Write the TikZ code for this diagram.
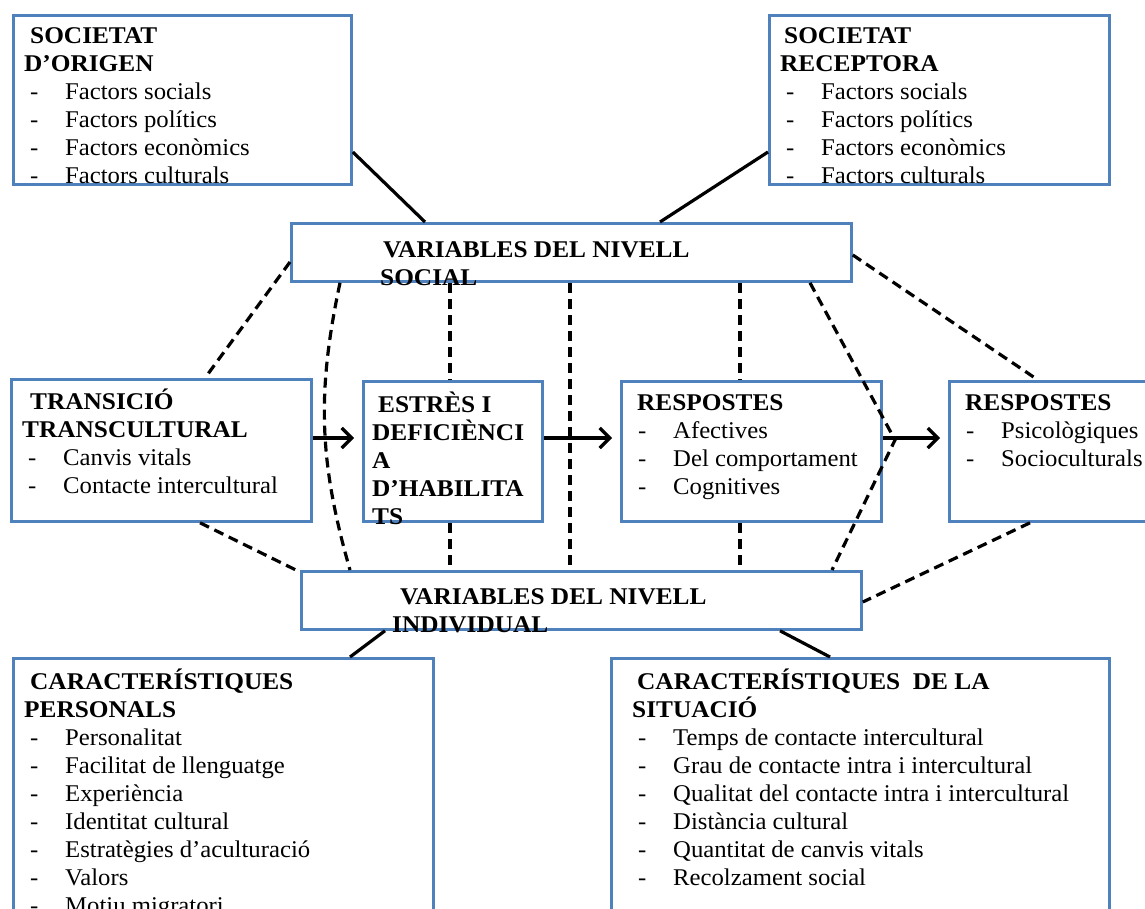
\documentclass[tikz,border=0pt]{standalone}
\usepackage{fontspec}
\setmainfont{Liberation Serif}[FakeStretch=1.03, BoldFeatures={FakeStretch=1.055}]
\usetikzlibrary{arrows.meta}
\definecolor{boxblue}{RGB}{79,129,189}
\newcommand\itm{\hspace*{6pt}\makebox[35pt][l]{-}}
\tikzset{
  box/.style={draw=boxblue, line width=2.8pt, fill=white, inner sep=0pt, anchor=north west},
  txt/.style={anchor=north west, inner sep=0pt, align=left, yshift=16pt,
              font=\fontsize{24}{28}\selectfont, execute at begin node=\strut},
  conn/.style={line width=3.2pt, black},
  dsh/.style={conn, dash pattern=on 10pt off 6pt},
  arr/.style={conn, -{Straight Barb[length=10pt,width=20pt,line width=3.2pt]}, shorten >=8pt}
}
\begin{document}
\begin{tikzpicture}[x=1pt,y=-1pt]
\path[use as bounding box, clip] (0,0) rectangle (1145,909);
\fill[white] (0,0) rectangle (1145,909);
% boxes
\node[box, minimum width=338pt, minimum height=169pt] (orig) at (12,14) {};
\node[box, minimum width=340pt, minimum height=169pt] (recv) at (768,14) {};
\node[box, minimum width=560pt, minimum height=58pt] (soc) at (290,222) {};
\node[box, minimum width=300pt, minimum height=142pt] (trans) at (10,378) {};
\node[box, minimum width=179pt, minimum height=140pt] (estres) at (362,380) {};
\node[box, minimum width=260pt, minimum height=140pt] (resp1) at (620,380) {};
\node[box, minimum width=210pt, minimum height=140pt] (resp2) at (948,380) {};
\node[box, minimum width=560pt, minimum height=58pt] (ind) at (300,570) {};
\node[box, minimum width=420pt, minimum height=270pt] (pers) at (12,657) {};
\node[box, minimum width=498pt, minimum height=270pt] (sit) at (610,657) {};
% texts
\node[txt] (torig) at (24,43) {\hspace*{6pt}\textbf{SOCIETAT}\\\textbf{D’ORIGEN}\\\itm Factors socials\\\itm Factors polítics\\\itm Factors econòmics\\\itm Factors culturals};
\node[txt] (trecv) at (780,43) {\hspace*{4pt}\textbf{SOCIETAT}\\\textbf{RECEPTORA}\\\itm Factors socials\\\itm Factors polítics\\\itm Factors econòmics\\\itm Factors culturals};
\node[txt] (tsoc) at (380,257) {\hspace*{3pt}\textbf{VARIABLES DEL NIVELL}\\\textbf{SOCIAL}};
\node[txt] (ttrans) at (22,405) {\hspace*{8pt}\textbf{TRANSICIÓ}\\\textbf{TRANSCULTURAL}\\\itm Canvis vitals\\\itm Contacte intercultural};
\node[txt] (testres) at (372,408) {\hspace*{6pt}\textbf{ESTRÈS I}\\\textbf{DEFICIÈNCI}\\\textbf{A}\\\textbf{D’HABILITA}\\\textbf{TS}};
\node[txt] (tresp1) at (632,410) {\hspace*{5pt}\textbf{RESPOSTES}\\\itm Afectives\\\itm Del comportament\\\itm Cognitives};
\node[txt] (tresp2) at (960,410) {\hspace*{5pt}\textbf{RESPOSTES}\\\itm Psicològiques\\\itm Socioculturals};
\node[txt] (tind) at (392,604) {\hspace*{8pt}\textbf{VARIABLES DEL NIVELL}\\\textbf{INDIVIDUAL}};
\node[txt] (tpers) at (24,685) {\hspace*{6pt}\textbf{CARACTERÍSTIQUES}\\\textbf{PERSONALS}\\\itm Personalitat\\\itm Facilitat de llenguatge\\\itm Experiència\\\itm Identitat cultural\\\itm Estratègies d’aculturació\\\itm Valors\\\itm Motiu migratori};
\node[txt] (tsit) at (632,685) {\hspace*{5pt}\textbf{CARACTERÍSTIQUES\ \ DE LA}\\\textbf{SITUACIÓ}\\\itm Temps de contacte intercultural\\\itm Grau de contacte intra i intercultural\\\itm Qualitat del contacte intra i intercultural\\\itm Distància cultural\\\itm Quantitat de canvis vitals\\\itm Recolzament social};
% solid connectors
\draw[conn] ([yshift=-138pt]orig.north east) -- ([xshift=135pt]soc.north west);
\draw[conn] ([yshift=-138pt]recv.north west) -- ([xshift=370pt]soc.north west);
\draw[conn] ([xshift=85pt]ind.south west) -- ([xshift=338pt]pers.north west);
\draw[conn] ([xshift=480pt]ind.south west) -- ([xshift=220pt]sit.north west);
% arrows
\draw[arr] ([yshift=-60pt]trans.north east) -- ([yshift=-58pt]estres.north west);
\draw[arr] ([yshift=-58pt]estres.north east) -- ([yshift=-58pt]resp1.north west);
\draw[arr] ([yshift=-58pt]resp1.north east) -- ([yshift=-58pt]resp2.north west);
% dashed connectors
\coordinate (v) at (895,440);
\draw[dsh] ([yshift=-40pt]soc.north west) -- ([xshift=195pt]trans.north west);
\draw[dsh] ([xshift=50pt]soc.south west) to[bend right=14] ([xshift=50pt]ind.north west);
\draw[dsh] ([xshift=160pt]soc.south west) -- ([xshift=88pt]estres.north west);
\draw[dsh] ([xshift=88pt]estres.south west) -- ([xshift=150pt]ind.north west);
\draw[dsh] ([xshift=280pt]soc.south west) -- ([xshift=270pt]ind.north west);
\draw[dsh] ([xshift=450pt]soc.south west) -- ([xshift=120pt]resp1.north west);
\draw[dsh] ([xshift=120pt]resp1.south west) -- ([xshift=440pt]ind.north west);
\draw[dsh] ([xshift=520pt]soc.south west) -- (v) -- ([xshift=532pt]ind.north west);
\draw[dsh] ([yshift=-33pt]soc.north east) -- ([xshift=90pt]resp2.north west);
\draw[dsh] ([xshift=82pt]resp2.south west) -- ([yshift=-32pt]ind.north east);
\draw[dsh] ([xshift=190pt]trans.south west) -- ([yshift=-2pt]ind.north west);
\end{tikzpicture}
\end{document}
